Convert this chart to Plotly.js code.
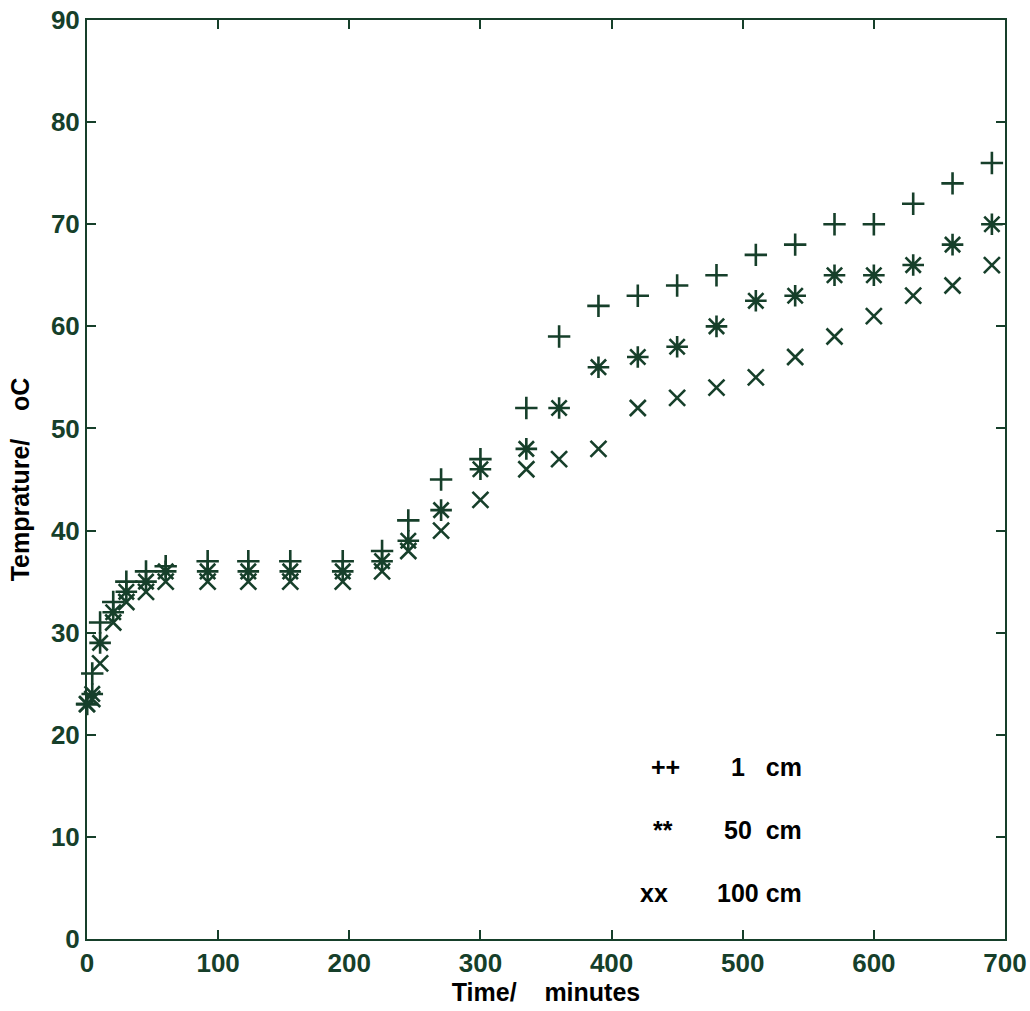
<!DOCTYPE html>
<html><head><meta charset="utf-8">
<script src="https://cdn.plot.ly/plotly-3.0.1.min.js"></script>
<style>body{margin:0;background:#fff}#chart{width:1030px;height:1011px}</style>
</head><body><div id="chart"></div>
<script>
// Time in minutes
const timeMin = [0, 4, 10, 20, 30, 45, 60, 92, 123, 155, 195, 225, 245, 270, 300, 335, 360, 390, 420, 450, 480, 510, 540, 570, 600, 630, 660, 690];
// Temperatures (oC) at three depths
const temp1cm   = [23, 26, 31, 33, 35, 36, 36.5, 37, 37, 37, 37, 38, 41, 45, 47, 52, 59, 62, 63, 64, 65, 67, 68, 70, 70, 72, 74, 76];
const temp50cm  = [23, 24, 29, 32, 34, 35, 36, 36, 36, 36, 36, 37, 39, 42, 46, 48, 52, 56, 57, 58, 60, 62.5, 63, 65, 65, 66, 68, 70];
const temp100cm = [23, 23.5, 27, 31, 33, 34, 35, 35, 35, 35, 35, 36, 38, 40, 43, 46, 47, 48, 52, 53, 54, 55, 57, 59, 61, 63, 64, 66];
const xTicks = [0, 100, 200, 300, 400, 500, 600, 700];
const yTicks = [0, 10, 20, 30, 40, 50, 60, 70, 80, 90];
const legendSymbols = ['++', '**', 'xx'];
const legendLabels = ['1   cm', '50  cm', '100 cm'];

const GREEN = '#163f2a';
const FAM = 'Liberation Sans, Arial, sans-serif';
const nb = s => s.replace(/ /g, '\u00a0');
const b = s => '<b>' + s + '</b>';

function mk(y, symbol, size, name) {
  return {
    x: timeMin, y: y, type: 'scatter', mode: 'markers', name: name,
    cliponaxis: false,
    marker: {symbol: symbol, size: size, color: GREEN, line: {color: GREEN, width: 2.6}}
  };
}
const traces = [
  mk(temp1cm, 'cross-thin-open', 16, '1 cm'),
  mk(temp50cm, 'asterisk-open', 18, '50 cm'),
  mk(temp100cm, 'x-thin-open', 16, '100 cm')
];

const axisCommon = {
  showline: true, mirror: 'ticks', linecolor: GREEN, linewidth: 2,
  ticks: 'inside', ticklen: 9, tickwidth: 2, tickcolor: GREEN,
  showgrid: false, zeroline: false,
  tickfont: {family: FAM, size: 26, color: GREEN}
};
const legY = [16.8, 10.7, 4.5];
const legSymX = [441, 439, 432];
const annotations = [];
legendSymbols.forEach((s, i) => {
  annotations.push({x: legSymX[i], y: legY[i], xref: 'x', yref: 'y', text: b(s), showarrow: false,
    xanchor: 'center', yanchor: 'middle', font: {family: FAM, size: 25, color: '#000'}});
  annotations.push({x: 547, y: legY[i], xref: 'x', yref: 'y', text: b(nb(legendLabels[i])), showarrow: false,
    xanchor: 'right', yanchor: 'middle', font: {family: FAM, size: 25, color: '#000'}});
});

const layout = {
  width: 1030, height: 1011,
  margin: {l: 87, r: 25, t: 20, b: 72},
  paper_bgcolor: '#fff', plot_bgcolor: '#fff',
  showlegend: false,
  font: {family: FAM, size: 24, color: GREEN},
  xaxis: Object.assign({}, axisCommon, {
    range: [0, 700], tickvals: xTicks, ticktext: xTicks.map(v => b(String(v))),
    title: {text: b(nb('Time/    minutes')), font: {family: FAM, size: 25, color: '#000'}, standoff: 0}
  }),
  yaxis: Object.assign({}, axisCommon, {
    range: [0, 90], tickvals: yTicks, ticktext: yTicks.map(v => b(String(v))),
    title: {text: b(nb('Temprature/    oC')), font: {family: FAM, size: 25, color: '#000'}, standoff: 14}
  }),
  annotations: annotations
};
Plotly.newPlot('chart', traces, layout, {displayModeBar: false, staticPlot: true});
</script>
</body></html>
